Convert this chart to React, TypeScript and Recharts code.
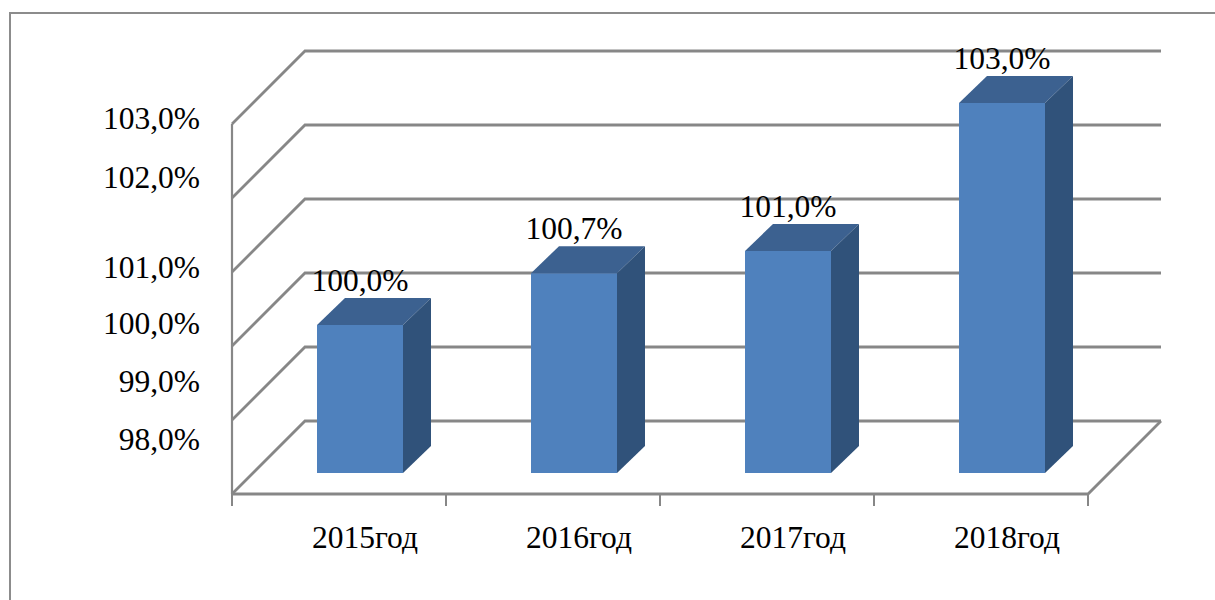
import { BarChart, Bar, XAxis, YAxis, CartesianGrid, LabelList } from "recharts";

const years = ["2015год", "2016год", "2017год", "2018год"];
const growth = [100.0, 100.7, 101.0, 103.0];
const yTicks = [98, 99, 100, 101, 102, 103];

const data = years.map((year, i) => ({ year, value: growth[i] }));

// 3d look: bars sit a bit back from the floor front, walls are further back
const FRONT = 21; // bar plane -> front floor edge
const BACK = 52; // bar plane -> back wall
const DEPTH_X = 28;
const DEPTH_Y = 27;
const GRID = "#878787";
const FONT = "'Liberation Serif', 'Times New Roman', serif";
const FS = 31.5;

// excel placed the axis labels a little off the gridlines
const yLabelShift: Record<number, number> = {
  98: -34,
  99: -18,
  100: -2,
  101: 16,
  102: 0,
  103: 15,
};

const fmt = (v: any) => Number(v).toFixed(1).replace(".", ",") + "%";

const Bar3D = (props: any) => {
  const { x, y, width, height } = props;
  if (height == null || width == null) return null;
  const r = x + width;
  const b = y + height;
  return (
    <g>
      <rect x={x} y={y} width={width} height={height} fill="#4F81BD" />
      <polygon
        points={`${x},${y} ${x + DEPTH_X},${y - DEPTH_Y} ${r + DEPTH_X},${y - DEPTH_Y} ${r},${y}`}
        fill="#3C6190"
      />
      <polygon
        points={`${r},${y} ${r + DEPTH_X},${y - DEPTH_Y} ${r + DEPTH_X},${b - DEPTH_Y} ${r},${b}`}
        fill="#30527A"
      />
    </g>
  );
};

const WallLine = (props: any) => {
  const { x1, y1, x2, x, y, width, height, index } = props;
  const isFloor = Math.abs(y1 - (y + height)) < 1;
  const n = years.length;
  const fx = x - FRONT;
  const fy = y + height + FRONT;
  return (
    <g key={`w-${index}`}>
      <polyline
        points={`${x1 - FRONT},${y1 + FRONT} ${x1 + BACK},${y1 - BACK} ${x2 + BACK},${y1 - BACK}`}
        fill="none"
        stroke={GRID}
        strokeWidth={2.8}
      />
      {index === 0 && (
        <line x1={fx} y1={y + FRONT} x2={fx} y2={fy} stroke={GRID} strokeWidth={2.2} />
      )}
      {isFloor && (
        <g>
          <polyline
            points={`${fx},${fy} ${fx + width},${fy} ${x2 + BACK},${y1 - BACK}`}
            fill="none"
            stroke={GRID}
            strokeWidth={2.8}
          />
          {Array.from({ length: n + 1 }, (_, i) => (
            <line
              key={i}
              x1={fx + (i * width) / n}
              y1={fy}
              x2={fx + (i * width) / n}
              y2={fy + 12}
              stroke={GRID}
              strokeWidth={2}
            />
          ))}
        </g>
      )}
    </g>
  );
};

const YTick = (props: any) => {
  const { y, payload } = props;
  const v = payload.value;
  return (
    <text
      x={200}
      y={y + (yLabelShift[v] ?? 0)}
      textAnchor="end"
      dominantBaseline="central"
      fontSize={FS}
      fontFamily={FONT}
      fill="#000"
    >
      {fmt(v)}
    </text>
  );
};

const XTick = (props: any) => {
  const { x, payload } = props;
  return (
    <text x={x + 5} y={548} textAnchor="middle" fontSize={FS} fontFamily={FONT} fill="#000">
      {payload.value}
    </text>
  );
};

export default function App() {
  return (
    <div style={{ position: "absolute", left: 0, top: 0, width: 1215, height: 600, background: "#fff" }}>
      <div
        style={{
          position: "absolute",
          left: 9,
          top: 12,
          width: 1220,
          height: 600,
          border: "2px solid #8c8c8c",
          boxSizing: "border-box",
        }}
      />
      <BarChart
        width={1215}
        height={600}
        data={data}
        margin={{ top: 103, right: 106, bottom: 97, left: 193 }}
        style={{ position: "absolute", left: 0, top: 0 }}
      >
        <CartesianGrid vertical={false} horizontal={<WallLine />} />
        <XAxis
          dataKey="year"
          height={30}
          axisLine={false}
          tickLine={false}
          tick={<XTick />}
          interval={0}
        />
        <YAxis
          width={60}
          domain={[98, 103]}
          ticks={yTicks}
          axisLine={false}
          tickLine={false}
          tick={<YTick />}
          interval={0}
        />
        <Bar dataKey="value" barSize={86} shape={<Bar3D />} isAnimationActive={false}>
          <LabelList
            dataKey="value"
            position="top"
            offset={34}
            formatter={fmt}
            fill="#000"
            fontSize={FS}
            fontFamily={FONT}
          />
        </Bar>
      </BarChart>
    </div>
  );
}
